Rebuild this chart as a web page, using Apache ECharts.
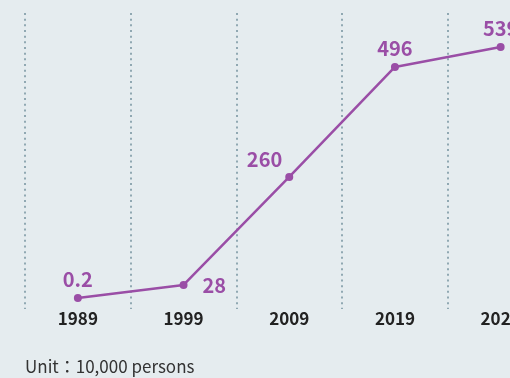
<!DOCTYPE html>
<html>
<head>
<meta charset="utf-8">
<script src="https://cdn.jsdelivr.net/npm/echarts@6/dist/echarts.min.js"></script>
<style>
  html, body { margin: 0; padding: 0; background: #e5ecef; }
  #chart { width: 510px; height: 378px; }
</style>
</head>
<body>
<div id="chart"></div>
<script>
// Years shown along the bottom axis
const years = ['1989', '1999', '2009', '2019', '2023'];
// Values in units of 10,000 persons
const persons = [0.2, 28, 260, 496, 539];
// Where each value label sits relative to its point
const labelPlacement = ['top', 'right', 'left', 'top', 'top'];

const purple = '#9a4ea6';
const font = '"Noto Sans CJK KR", "Noto Sans", sans-serif';

const chart = echarts.init(document.getElementById('chart'), null, { renderer: 'canvas' });

const seriesData = persons.map((v, i) => {
  const pos = labelPlacement[i];
  const label = { position: pos };
  if (pos === 'left') { label.distance = 3; label.offset = [0, -17]; }
  if (pos === 'right') { label.distance = 15; }
  return { value: v, label: label };
});

chart.setOption({
  backgroundColor: '#e5ecef',
  animation: false,
  grid: {
    left: 25, top: 13, width: 528.5, bottom: 69,
    containLabel: false,
    outerBoundsMode: 'none'
  },
  xAxis: {
    type: 'category',
    data: years,
    boundaryGap: true,
    axisLine: { show: false },
    axisTick: { show: false },
    axisLabel: {
      margin: 1,
      fontFamily: font,
      fontSize: 17,
      fontWeight: 'bold',
      color: '#222222'
    },
    splitLine: {
      show: true,
      lineStyle: { color: '#90a8b2', width: 2, type: [2, 3.67] }
    }
  },
  yAxis: {
    type: 'value',
    min: -23.6,
    max: 611.8,
    show: false,
    splitLine: { show: false }
  },
  series: [{
    type: 'line',
    data: seriesData,
    symbol: 'circle',
    symbolSize: 8,
    itemStyle: { color: purple },
    lineStyle: { color: purple, width: 2.5 },
    label: {
      show: true,
      distance: 5,
      fontFamily: font,
      fontSize: 20,
      fontWeight: 'bold',
      color: purple
    }
  }],
  graphic: [{
    type: 'text',
    left: 25,
    top: 358,
    style: {
      text: 'Unit：10,000 persons',
      fontFamily: font,
      fontSize: 17,
      fill: '#333333'
    }
  }]
});
</script>
</body>
</html>
